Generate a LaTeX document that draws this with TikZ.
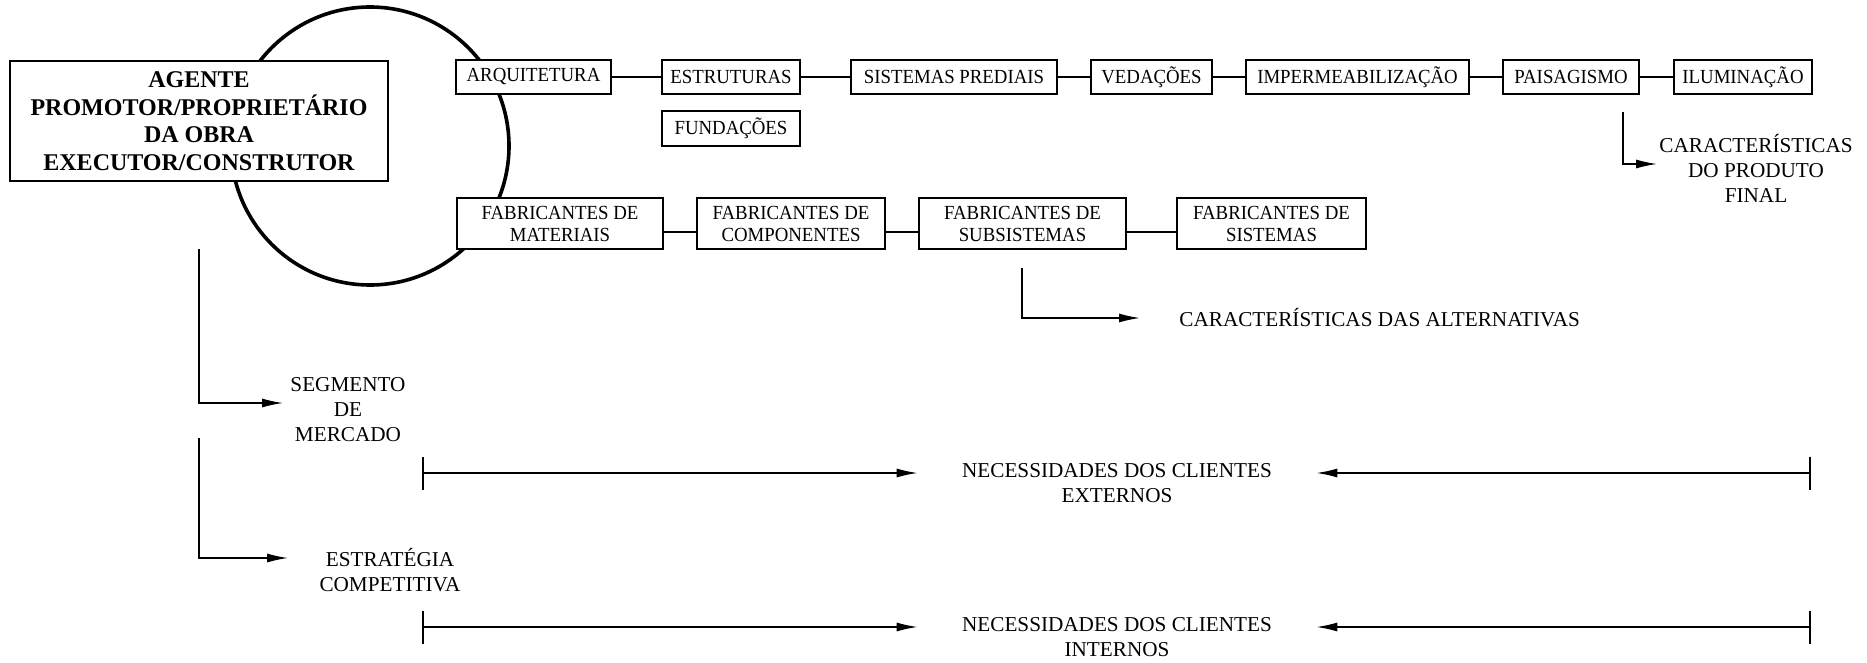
\documentclass[tikz,border=0pt]{standalone}
\usepackage{fontspec}
\setmainfont{Liberation Serif}
\newfontfamily\boxfont[FakeStretch=0.94]{Liberation Serif}
\usetikzlibrary{arrows.meta,positioning}

\begin{document}
\begin{tikzpicture}[
    x=0.5pt, y=-0.5pt,
    >={Latex[length=10.5pt,width=4.5pt]},
    agent/.style={
      draw, fill=white, line width=0.8pt, align=center,
      font=\bfseries\fontsize{12}{13.75}\selectfont,
      minimum width=189pt, minimum height=60pt, inner sep=0pt,
    },
    stage/.style={
      draw, fill=white, line width=0.8pt, align=center,
      font=\boxfont\fontsize{10}{11}\selectfont,
      minimum width=#1, minimum height=17pt, inner sep=0pt,
    },
    maker/.style={stage=#1, minimum height=25.5pt},
    ring/.style={circle, draw, line width=1.8pt, minimum size=139pt, inner sep=0pt},
    link/.style={line width=0.7pt},
    feed/.style={->, line width=0.7pt},
    need/.style={{Bar[width=16.5pt,line width=1pt]}->, line width=0.8pt},
    outtext/.style={align=center, font=\fontsize{10.6}{12.5}\selectfont, inner sep=3.5pt},
  ]

  % Canvas: 1867 x 663 units, y grows downwards
  \useasboundingbox (0,0) rectangle (1867,663);

  % =================== Agent and circle ===================
  \node[ring] (hub) at (370,146) {};
  \node[agent] (agent) at (199,121)
    {AGENTE\\PROMOTOR/PROPRIETÁRIO\\DA OBRA\\EXECUTOR/CONSTRUTOR};

  % =================== Project disciplines ===================
  \node[stage=77.5pt] (arq) at (533.5,77) {ARQUITETURA};
  \node[stage=69pt] (est) at (731,77) {ESTRUTURAS};
  \node[stage=103pt] (sis) at (954,77) {SISTEMAS PREDIAIS};
  \node[stage=60.5pt] (ved) at (1151.5,77) {VEDAÇÕES};
  \node[stage=111.5pt] (imp) at (1357.5,77) {IMPERMEABILIZAÇÃO};
  \node[stage=68pt] (pai) at (1571,77) {PAISAGISMO};
  \node[stage=69pt] (ilu) at (1743,77) {ILUMINAÇÃO};
  \node[stage=69pt, minimum height=17.5pt] (fun) at (731,128.5) {FUNDAÇÕES};

  \foreach \a/\b in {arq/est, est/sis, sis/ved, ved/imp, imp/pai, pai/ilu}
    \draw[link] (\a) -- (\b);

  % =================== Manufacturers ===================
  \node[maker=103pt] (mat) at (560,223.5) {FABRICANTES DE\\MATERIAIS};
  \node[maker=94pt] (com) at (791,223.5) {FABRICANTES DE\\COMPONENTES};
  \node[maker=103.5pt] (sub) at (1022.5,223.5) {FABRICANTES DE\\SUBSISTEMAS};
  \node[maker=94.5pt] (sst) at (1271.5,223.5) {FABRICANTES DE\\SISTEMAS};

  \foreach \a/\b in {mat/com, com/sub, sub/sst}
    \draw[link] ([yshift=-4.25pt]\a.east) -- ([yshift=-4.25pt]\b.west);

  % =================== Characteristics ===================
  \coordinate (prodtop) at (1623,112);
  \node[outtext, anchor=west, inner sep=1pt] (prod) at (1657,168)
    {CARACTERÍSTICAS\\DO PRODUTO\\FINAL};
  \draw[feed] (prodtop) |- ([yshift=2pt]prod.west);

  \coordinate (alttop) at (1022,268);
  \node[outtext, anchor=west] (alt) at (1172,318) {CARACTERÍSTICAS DAS ALTERNATIVAS};
  \draw[feed, shorten >=16pt] (alttop) |- (alt);

  % =================== Market and strategy ===================
  \coordinate (segtop) at (199,249);
  \node[outtext] (seg) at (348,410) {SEGMENTO\\DE\\MERCADO};
  \draw[feed] (segtop) |- ([yshift=3.5pt]seg.west);

  \coordinate (strtop) at (199,438);
  \node[outtext] (strat) at (390,570) {ESTRATÉGIA\\COMPETITIVA};
  \draw[feed, shorten >=12pt] (strtop) |- ([yshift=6pt]strat.west);

  % =================== Client needs ===================
  \coordinate (extL) at (422,473);
  \coordinate (extR) at (1811,473);
  \node[outtext, inner xsep=22pt] (ext) at (1117,483)
    {NECESSIDADES DOS CLIENTES\\EXTERNOS};
  \draw[need] (extL) -- (extL -| ext.west);
  \draw[need] (extR) -- (extR -| ext.east);

  \coordinate (intL) at (422,627);
  \coordinate (intR) at (1811,627);
  \node[outtext, inner xsep=22pt] (int) at (1117,637.5)
    {NECESSIDADES DOS CLIENTES\\INTERNOS};
  \draw[need] (intL) -- (intL -| int.west);
  \draw[need] (intR) -- (intR -| int.east);

\end{tikzpicture}
\end{document}
